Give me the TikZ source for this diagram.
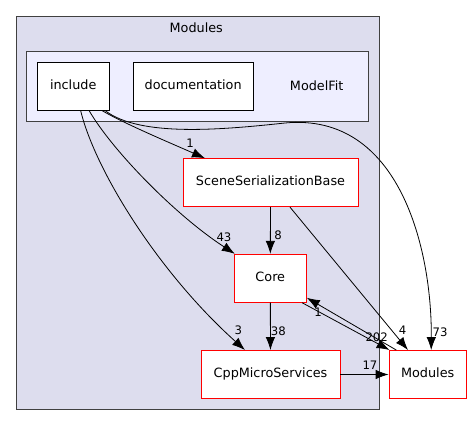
\documentclass[tikz,border=0pt]{standalone}
\usepackage{fontspec}
\setmainfont{DejaVu Sans}
\usetikzlibrary{arrows.meta}
\definecolor{outerfill}{HTML}{DDDDEE}
\definecolor{innerfill}{HTML}{EEEEFF}
\definecolor{clusterline}{HTML}{404040}

\begin{document}
\begin{tikzpicture}[x=1pt, y=-1pt,
    font=\fontsize{12.8}{15}\selectfont,
    dirbox/.style={draw=red, fill=white, line width=0.9pt, minimum height=48pt,
      inner sep=0pt, text height=9.5pt, text depth=3pt},
    subdir/.style={dirbox, draw=black},
    dep/.style={-{Latex[length=13pt, width=9.5pt]}, line width=0.8pt},
    lbl/.style={font=\fontsize{11.7}{14}\selectfont, inner sep=0pt}]
  \useasboundingbox (0,0) rectangle (472,425);
  % clusters
  \draw [fill=outerfill, draw=clusterline, line width=0.9pt] (16,16) rectangle (379,409);
  \node (modtitle) at (196.3,27.3) {Modules};
  \draw [fill=innerfill, draw=clusterline, line width=0.9pt] (26.7,51.7) rectangle (368,121);
  \node (fittitle) at (316.7,85.7) {ModelFit};

  \node [subdir, minimum width=72.3pt] (inc) at (73.2,86.3) {include};
  \node [subdir, minimum width=120.3pt] (doc) at (193.2,86.3) {documentation};
  \node [dirbox, minimum width=175pt] (ssb) at (270.5,182.7) {SceneSerializationBase};
  \node [dirbox, minimum width=72pt] (core) at (270.3,278.3) {Core};
  \node [dirbox, minimum width=139pt] (cpp) at (270.5,374.5) {CppMicroServices};
  \node [dirbox, minimum width=77.3pt] (mods) at (427.7,374.5) {Modules};

  \draw [dep]
    ([xshift=-7.5pt]inc.south east) .. controls (125,124) and (175,145) .. ([xshift=-65.5pt]ssb.north)
    node[lbl] at (190,143) {1};
  \draw [dep]
    ([xshift=16pt]inc.south) .. controls (112,150) and (175,215) .. ([xshift=1pt]core.north west)
    node[lbl] at (224,237.3) {43};
  \draw [dep]
    ([xshift=7.5pt]inc.south) .. controls (95,170) and (158,272) .. ([xshift=-25.5pt]cpp.north)
    node[lbl] at (238.3,330.7) {3};
  \draw [dep]
    ([xshift=-4.5pt]inc.south east) .. controls (140,137) and (220,130) .. (285,123)
    .. controls (400,112) and (432,250) .. ([xshift=3.5pt]mods.north)
    node[lbl] at (440,332.7) {73};
  \draw [dep] (ssb) -- (core) node[lbl] at (278,235) {8};
  \draw [dep] ([xshift=19.5pt]ssb.south) -- ([xshift=-19.7pt]mods.north)
    node[lbl] at (402.7,330) {4};
  \draw [dep] (core) -- (cpp) node[lbl] at (278.3,331.7) {38};
  \draw [dep] ([xshift=-4.6pt]core.south east) -- ([xshift=1pt]mods.north west)
    node[lbl] at (376.7,337) {202};
  \draw [dep] ([xshift=7.7pt]mods.north west) -- ([yshift=5pt]core.south east)
    node[lbl] at (318,312.7) {1};
  \draw [dep] (cpp) -- (mods) node[lbl] at (370,365) {17};
\end{tikzpicture}
\end{document}
